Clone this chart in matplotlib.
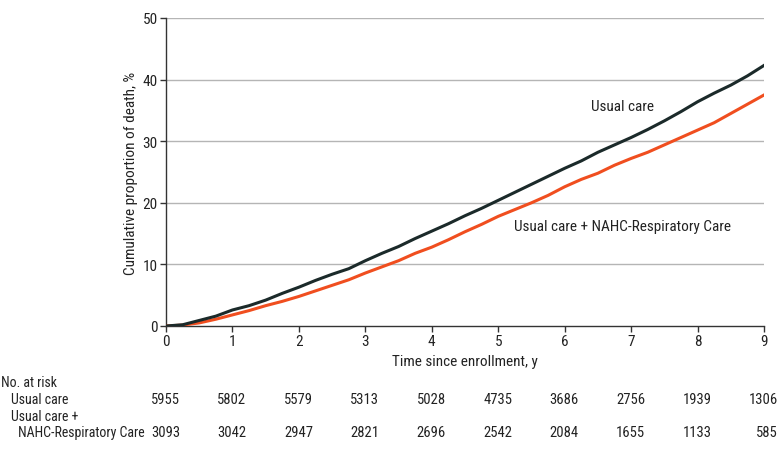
import numpy as np
import matplotlib
matplotlib.use("Agg")
import matplotlib.pyplot as plt

plt.rcParams['font.family'] = ['Roboto Condensed', 'Archivo Narrow', 'DejaVu Sans']

# ---------------------------------------------------------
# Data
# ---------------------------------------------------------

years = np.arange(0, 9.01, 0.25)

usual_care = [0.0, 0.2, 0.9, 1.6, 2.6, 3.3, 4.2, 5.3, 6.3, 7.4, 8.4, 9.3,
              10.6, 11.8, 12.9, 14.2, 15.4, 16.6, 17.9, 19.1, 20.4, 21.7,
              23.0, 24.3, 25.6, 26.8, 28.2, 29.4, 30.6, 31.9, 33.3, 34.8,
              36.4, 37.8, 39.1, 40.6, 42.3]

nahc = [0.0, 0.15, 0.5, 1.1, 1.8, 2.5, 3.3, 4.0, 4.8, 5.7, 6.6, 7.5,
        8.6, 9.6, 10.6, 11.8, 12.8, 14.0, 15.3, 16.5, 17.8, 18.9,
        20.0, 21.2, 22.6, 23.8, 24.8, 26.1, 27.2, 28.2, 29.4, 30.6,
        31.8, 33.0, 34.5, 36.0, 37.5]

risk_years = list(range(10))
risk_usual = [5955, 5802, 5579, 5313, 5028, 4735, 3686, 2756, 1939, 1306]
risk_nahc = [3093, 3042, 2947, 2821, 2696, 2542, 2084, 1655, 1133, 585]

black = "#1b2a2a"
orange = "#f04e1f"
txt = "#222222"
fs = 11

# ---------------------------------------------------------
# Figure
# ---------------------------------------------------------

fig = plt.figure(figsize=(7.8, 4.52), dpi=100)
ax = fig.add_axes([166 / 780, 1 - 327 / 452, 598 / 780, 308 / 452])

for yv in range(10, 51, 10):
    ax.axhline(yv, color="#b5b5b5", lw=1.0, zorder=0)

ax.plot(years, nahc, color=orange, lw=2.2, zorder=3)
ax.plot(years, usual_care, color=black, lw=2.2, zorder=4)

ax.set_xlim(0, 9)
ax.set_ylim(0, 50)
ax.set_xticks(range(10))
ax.set_yticks(range(0, 51, 10))

for side in ["top", "right"]:
    ax.spines[side].set_visible(False)
for side in ["left", "bottom"]:
    ax.spines[side].set_color("#333333")
    ax.spines[side].set_linewidth(1.0)

ax.tick_params(axis="both", direction="out", length=4, width=1.0,
               color="#333333", labelsize=fs, labelcolor=txt, pad=2)

ax.set_xlabel("Time since enrollment, y", fontsize=fs, color=txt,
              labelpad=4)
ax.set_ylabel("Cumulative proportion of death, %", fontsize=fs, color=txt,
              labelpad=3)

ax.text(6.39, 35.7, "Usual care", fontsize=fs, color=txt, va="center")
ax.text(5.23, 16.2, "Usual care + NAHC-Respiratory Care", fontsize=fs,
        color=txt, va="center")

# ---------------------------------------------------------
# Number at risk table
# ---------------------------------------------------------

def fig_y(px):
    return 1 - px / 452

lfs = 10
nfs = 10.5
fig.text(1 / 780, fig_y(383), "No. at risk", fontsize=lfs, color=txt,
         va="center")
fig.text(11 / 780, fig_y(400), "Usual care", fontsize=lfs, color=txt,
         va="center")
fig.text(11 / 780, fig_y(417), "Usual care +", fontsize=lfs, color=txt,
         va="center")
fig.text(18 / 780, fig_y(433), "NAHC-Respiratory Care", fontsize=lfs,
         color=txt, va="center")

trans = matplotlib.transforms.blended_transform_factory(ax.transData,
                                                        fig.transFigure)
offset = matplotlib.transforms.ScaledTranslation(14 / 100, 0,
                                                 fig.dpi_scale_trans)
for x, a, b in zip(risk_years, risk_usual, risk_nahc):
    fig.text(x, fig_y(400), str(a), transform=trans + offset, ha="right",
             va="center", fontsize=nfs, color=txt)
    fig.text(x, fig_y(433), str(b), transform=trans + offset, ha="right",
             va="center", fontsize=nfs, color=txt)

fig.savefig("out.png", dpi=100)
